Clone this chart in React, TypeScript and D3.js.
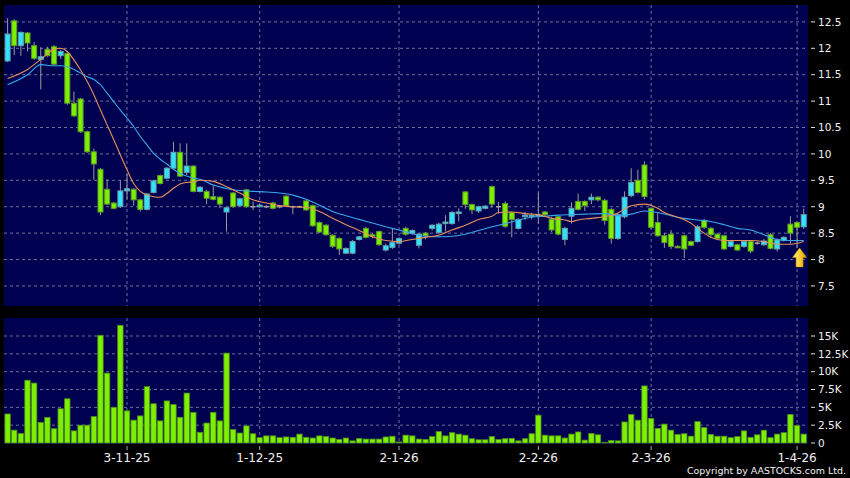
import React from 'react';
import * as d3 from 'd3';

// ---- data ----
const opens = [
  11.76, 12.52, 12.05, 12.29, 12.05, 11.79, 11.98, 12.03, 11.86, 11.9,
  10.96, 11.04, 10.42, 10.04, 9.71, 9.33, 9.07, 9.0, 9.3, 9.33,
  9.13, 8.95, 9.27, 9.59, 9.54, 9.73, 10.03, 9.65, 9.77, 9.29,
  9.29, 9.19, 9.18, 8.9, 9.26, 9.02, 9.32, 9.0, 9.0, 9.0,
  9.07, 9.0, 9.2, 9.0, 9.0, 9.11, 9.02, 8.7, 8.65, 8.46,
  8.4, 8.12, 8.12, 8.38, 8.59, 8.47, 8.53, 8.18, 8.23, 8.31,
  8.59, 8.5, 8.27, 8.5, 8.59, 8.51, 8.68, 8.68, 8.89, 9.28,
  9.04, 8.92, 8.97, 9.38, 9.0, 9.06, 8.89, 8.59, 8.82, 8.83,
  8.84, 8.9, 8.76, 8.81, 8.38, 8.82, 9.1, 9.1, 9.13, 9.18,
  9.12, 8.95, 8.4, 8.81, 9.21, 9.5, 9.79, 8.97, 8.7, 8.45,
  8.48, 8.25, 8.45, 8.34, 8.34, 8.74, 8.59, 8.48, 8.45, 8.25,
  8.28, 8.25, 8.34, 8.31, 8.28, 8.47, 8.2, 8.36, 8.67, 8.7,
  8.62,
];
const highs = [
  12.57, 12.55, 12.32, 12.31, 12.12, 12.02, 12.03, 12.06, 11.97, 11.95,
  11.18, 11.06, 10.44, 10.1, 9.73, 9.52, 9.09, 9.5, 9.62, 9.35,
  9.15, 9.26, 9.51, 9.61, 9.75, 10.23, 10.2, 10.2, 9.79, 9.39,
  9.32, 9.41, 9.2, 9.0, 9.28, 9.17, 9.34, 9.1, 9.05, 9.03,
  9.09, 9.03, 9.22, 9.02, 9.02, 9.14, 9.04, 8.72, 8.67, 8.48,
  8.42, 8.23, 8.37, 8.45, 8.62, 8.5, 8.55, 8.3, 8.59, 8.42,
  8.62, 8.57, 8.5, 8.52, 8.67, 8.7, 8.84, 8.92, 8.97, 9.3,
  9.06, 9.02, 9.03, 9.4, 9.09, 9.1, 8.91, 8.78, 8.9, 8.88,
  9.27, 8.92, 8.8, 8.83, 8.62, 9.08, 9.25, 9.12, 9.25, 9.2,
  9.15, 8.97, 8.87, 9.29, 9.73, 9.7, 9.86, 8.99, 8.88, 8.5,
  8.56, 8.27, 8.47, 8.36, 8.65, 8.77, 8.62, 8.5, 8.47, 8.37,
  8.3, 8.37, 8.36, 8.34, 8.39, 8.5, 8.4, 8.44, 8.82, 8.72,
  8.96,
];
const lows = [
  11.74, 11.87, 11.86, 11.94, 11.78, 11.22, 11.84, 11.68, 11.8, 10.93,
  10.7, 10.4, 10.02, 9.51, 8.84, 9.03, 8.95, 8.98, 9.14, 9.02,
  8.91, 8.93, 9.25, 9.42, 9.52, 9.71, 9.56, 9.6, 9.27, 9.27,
  9.05, 9.12, 8.97, 8.53, 8.98, 9.0, 8.98, 8.94, 8.98, 8.97,
  8.95, 8.97, 9.0, 8.86, 8.98, 8.92, 8.62, 8.5, 8.45, 8.22,
  8.09, 8.1, 8.1, 8.36, 8.4, 8.4, 8.26, 8.15, 8.2, 8.28,
  8.45, 8.47, 8.21, 8.38, 8.55, 8.48, 8.53, 8.66, 8.72, 8.96,
  8.86, 8.88, 8.95, 8.98, 8.87, 8.6, 8.42, 8.57, 8.75, 8.76,
  8.68, 8.82, 8.52, 8.46, 8.27, 8.68, 8.93, 8.92, 9.05, 9.1,
  8.66, 8.3, 8.37, 8.78, 9.18, 9.25, 9.14, 8.58, 8.43, 8.22,
  8.2, 8.22, 8.03, 8.25, 8.32, 8.58, 8.43, 8.38, 8.18, 8.23,
  8.16, 8.22, 8.12, 8.28, 8.26, 8.19, 8.15, 8.34, 8.3, 8.22,
  8.58,
];
const closes = [
  12.27, 12.05, 12.3, 12.1, 11.81, 11.84, 11.86, 11.7, 11.94, 10.96,
  10.72, 10.42, 10.04, 9.81, 8.9, 9.05, 8.97, 9.3, 9.34, 9.13,
  8.95, 9.24, 9.49, 9.44, 9.73, 10.03, 9.58, 9.77, 9.29, 9.37,
  9.16, 9.14, 9.05, 8.98, 9.0, 9.15, 9.0, 9.0, 9.03, 9.0,
  8.97, 9.0, 9.02, 9.0, 9.0, 8.94, 8.64, 8.52, 8.47, 8.25,
  8.2, 8.21, 8.34, 8.43, 8.42, 8.45, 8.28, 8.26, 8.32, 8.4,
  8.48, 8.55, 8.48, 8.45, 8.65, 8.67, 8.71, 8.89, 8.9, 9.04,
  8.94, 9.0, 9.01, 9.05, 9.0, 8.63, 8.76, 8.76, 8.84, 8.84,
  8.85, 8.85, 8.56, 8.48, 8.59, 8.97, 8.95, 9.02, 9.18, 9.13,
  8.74, 8.4, 8.85, 9.18, 9.46, 9.27, 9.19, 8.61, 8.45, 8.32,
  8.25, 8.24, 8.2, 8.27, 8.62, 8.61, 8.47, 8.4, 8.2, 8.34,
  8.18, 8.34, 8.16, 8.31, 8.35, 8.21, 8.37, 8.42, 8.5, 8.61,
  8.85,
];
// volume in thousands of shares
const volumes = [
  4.07, 1.8, 1.35, 8.8, 8.4, 2.9, 3.6, 2.0, 4.8, 6.2,
  1.7, 2.5, 2.5, 3.7, 15.1, 9.8, 5.0, 16.5, 4.5, 3.2,
  3.8, 7.9, 5.5, 3.1, 5.9, 5.4, 3.6, 7.0, 4.3, 1.5,
  2.8, 4.3, 3.1, 12.6, 1.9, 1.4, 2.4, 1.3, 0.75, 1.0,
  1.0, 0.75, 0.85, 0.8, 1.25, 0.8, 0.7, 1.0, 0.9, 0.7,
  0.5, 0.7, 0.3, 0.65, 0.55, 0.55, 0.55, 0.85, 0.95, 0.15,
  1.1, 1.0, 0.55, 0.5, 0.9, 1.6, 1.0, 1.45, 1.25, 1.1,
  0.6, 0.45, 0.45, 0.9, 0.5, 0.6, 0.65, 0.3, 0.6, 1.3,
  3.9, 1.1, 1.0, 1.0, 0.7, 1.25, 1.55, 0.4, 1.35, 1.15,
  0.1, 0.35, 0.3, 2.95, 4.0, 3.2, 8.0, 3.45, 2.05, 2.65,
  1.8, 1.2, 1.3, 0.95, 3.0, 2.15, 1.2, 0.95, 0.95, 0.75,
  0.9, 1.7, 0.8, 1.15, 1.8, 0.75, 1.25, 1.45, 4.0, 2.45,
  1.25,
];
// moving averages: [candle index, value]
const maShort: [number, number][] = [
  [0, 11.43], [3, 11.6], [5, 11.79], [7, 11.98], [8, 12.0], [9, 11.94], [10, 11.78],
  [11, 11.59], [12, 11.37], [13, 11.12], [14, 10.83], [15, 10.55], [16, 10.27],
  [17, 9.98], [18, 9.7], [19, 9.44], [20, 9.29], [21, 9.22], [22, 9.19], [23, 9.18],
  [24, 9.25], [25, 9.35], [26, 9.43], [27, 9.46], [28, 9.47], [29, 9.5], [31, 9.48],
  [33, 9.38], [35, 9.26], [37, 9.13], [39, 9.07], [41, 9.02], [43, 9.0], [45, 8.99],
  [47, 8.91], [49, 8.78], [51, 8.66], [53, 8.55], [55, 8.43], [57, 8.36], [59, 8.34],
  [61, 8.38], [63, 8.42], [65, 8.46], [67, 8.56], [69, 8.65], [71, 8.76], [73, 8.82],
  [74, 8.89], [76, 8.9], [78, 8.87], [80, 8.85], [82, 8.78], [84, 8.75], [85, 8.72],
  [86, 8.75], [88, 8.78], [90, 8.81], [92, 8.88], [94, 9.02], [96, 9.05], [98, 8.97],
  [99, 8.89], [101, 8.8], [103, 8.69], [104, 8.59], [105, 8.5], [106, 8.42], [108, 8.36],
  [110, 8.36], [112, 8.36], [114, 8.34], [116, 8.29], [118, 8.29], [120, 8.34],
];
const maLong: [number, number][] = [
  [0, 11.31], [3, 11.5], [5, 11.69], [7, 11.67], [8, 11.67], [9, 11.65], [10, 11.6],
  [11, 11.53], [12, 11.46], [13, 11.41], [14, 11.31], [15, 11.15], [16, 10.99],
  [17, 10.83], [18, 10.68], [19, 10.52], [20, 10.33], [21, 10.17], [22, 10.01],
  [23, 9.9], [24, 9.81], [25, 9.71], [26, 9.63], [27, 9.58], [28, 9.54], [29, 9.52],
  [31, 9.41], [34, 9.32], [37, 9.29], [39, 9.28], [41, 9.26], [43, 9.22], [45, 9.14],
  [47, 9.03], [49, 8.91], [51, 8.83], [53, 8.76], [55, 8.69], [57, 8.62], [59, 8.56],
  [61, 8.49], [63, 8.44], [65, 8.43], [67, 8.44], [69, 8.48], [71, 8.55], [73, 8.62],
  [75, 8.68], [77, 8.75], [79, 8.8], [81, 8.82], [83, 8.84], [85, 8.85], [87, 8.86],
  [90, 8.87], [92, 8.83], [94, 8.86], [96, 8.92], [98, 8.89], [100, 8.83], [102, 8.78],
  [104, 8.75], [106, 8.72], [108, 8.66], [110, 8.59], [112, 8.56], [114, 8.47],
  [116, 8.38], [118, 8.36], [120, 8.36],
];
const dateTickIdx = [18, 38, 59, 80, 97, 119];
const dateTickLabels = ['3-11-25', '1-12-25', '2-1-26', '2-2-26', '2-3-26', '1-4-26'];
const priceTicks = [12.5, 12, 11.5, 11, 10.5, 10, 9.5, 9, 8.5, 8, 7.5];
const volTicks = [15, 12.5, 10, 7.5, 5, 2.5, 0];
const arrowIdx = 119;
const arrowPrices = [8.22, 7.86];

const FONT = 'DejaVu Sans, Verdana, sans-serif';

export default function App() {
  const W = 850;
  const H = 478;
  const plotL = 4;
  const plotR = 808;
  const priceTop = 5;
  const priceBot = 306;
  const volTop = 318;
  const volBot = 444;

  const n = closes.length;
  const x = d3.scaleLinear().domain([0, n - 1]).range([7.6, 803.7]);
  const y = d3.scaleLinear().domain([7.12, 12.82]).range([priceBot, priceTop]);
  const yv = d3.scaleLinear().domain([0, 15]).range([443, 336]);

  const bodyW = 5;
  const volW = 5.4;
  const gridColor = '#6e6e9c';
  const bg = '#000050';

  const line = d3
    .line<[number, number]>()
    .x((d) => x(d[0]))
    .y((d) => y(d[1]))
    .curve(d3.curveMonotoneX);

  const ax = x(arrowIdx) + 2.5;
  const aTip = y(arrowPrices[0]);
  const aBase = y(arrowPrices[1]);
  const aMid = aTip + (aBase - aTip) * 0.5;
  const arrowPath = `M${ax},${aTip} L${ax + 7},${aMid} L${ax + 3.5},${aMid} L${ax + 3.5},${aBase} L${ax - 3.5},${aBase} L${ax - 3.5},${aMid} L${ax - 7},${aMid} Z`;

  return (
    <div style={{ position: 'absolute', left: 0, top: 0, width: W, height: H, background: '#000' }}>
      <svg width={W} height={H} style={{ display: 'block' }}>
        <defs>
          <clipPath id="pclip">
            <rect x={plotL} y={priceTop} width={plotR - plotL} height={priceBot - priceTop} />
          </clipPath>
          <linearGradient id="agrad" x1="0" x2="1" y1="0" y2="0">
            <stop offset="0" stopColor="#fff3a0" />
            <stop offset="0.45" stopColor="#ffd23a" />
            <stop offset="1" stopColor="#d99a00" />
          </linearGradient>
        </defs>
        <rect x={0} y={0} width={W} height={H} fill="#000" />
        {/* panels */}
        <rect x={plotL} y={priceTop} width={plotR - plotL} height={priceBot - priceTop} fill={bg} />
        <rect x={plotL} y={volTop} width={plotR - plotL} height={volBot - volTop} fill={bg} />

        {/* price grid */}
        {priceTicks.map((p) => (
          <line key={'pg' + p} x1={plotL} x2={plotR} y1={y(p)} y2={y(p)} stroke={gridColor} strokeDasharray="3,3" strokeWidth={1} />
        ))}
        {volTicks.filter((v) => v > 0).map((v) => (
          <line key={'vg' + v} x1={plotL} x2={plotR} y1={yv(v)} y2={yv(v)} stroke={gridColor} strokeDasharray="3,3" strokeWidth={1} />
        ))}
        {dateTickIdx.map((i) => (
          <g key={'dg' + i}>
            <line x1={x(i)} x2={x(i)} y1={priceTop} y2={priceBot} stroke={gridColor} strokeDasharray="3,3" />
            <line x1={x(i)} x2={x(i)} y1={volTop} y2={volBot} stroke={gridColor} strokeDasharray="3,3" />
            <line x1={x(i)} x2={x(i)} y1={volBot + 2} y2={volBot + 6} stroke="#aaa" />
          </g>
        ))}

        {/* candles */}
        <g clipPath="url(#pclip)">
          {closes.map((c, i) => {
            const o = opens[i];
            const cx = x(i);
            const up = c > o + 0.004;
            const down = c < o - 0.004;
            const top = y(Math.max(o, c));
            const bot = y(Math.min(o, c));
            return (
              <g key={'c' + i}>
                <line x1={cx} x2={cx} y1={y(highs[i])} y2={y(lows[i])} stroke="#9a9a9a" strokeWidth={1} />
                {up || down ? (
                  <rect
                    x={cx - bodyW / 2}
                    y={top}
                    width={bodyW}
                    height={Math.max(1.5, bot - top)}
                    fill={up ? '#2fe3fb' : '#7cf000'}
                    stroke={up ? '#6a9fab' : '#5e9a28'}
                    strokeWidth={1}
                  />
                ) : (
                  <line x1={cx - bodyW / 2} x2={cx + bodyW / 2} y1={top} y2={top} stroke="#a8a8a8" strokeWidth={1.5} />
                )}
              </g>
            );
          })}
          <path d={line(maLong) || ''} fill="none" stroke="#3aa8ec" strokeWidth={1.1} />
          <path d={line(maShort) || ''} fill="none" stroke="#e8905c" strokeWidth={1.1} />
          <path d={arrowPath} fill="url(#agrad)" stroke="#c58a00" strokeWidth={0.6} />
        </g>

        {/* volume */}
        {volumes.map((v, i) => (
          <rect
            key={'v' + i}
            x={x(i) - volW / 2}
            y={yv(v)}
            width={volW}
            height={Math.max(0.5, yv(0) - yv(v))}
            fill="#7cf000"
            stroke="#4f8a1c"
            strokeWidth={0.8}
          />
        ))}

        {/* right axes */}
        {priceTicks.map((p) => (
          <g key={'pl' + p}>
            <line x1={811} x2={815} y1={y(p)} y2={y(p)} stroke="#ddd" />
            <text x={818} y={y(p)} dy="0.36em" fill="#f2f2f2" fontSize={10.5} fontFamily={FONT}>
              {String(p)}
            </text>
          </g>
        ))}
        {volTicks.map((v) => (
          <g key={'vl' + v}>
            <line x1={811} x2={815} y1={yv(v)} y2={yv(v)} stroke="#ddd" />
            <text x={818} y={yv(v)} dy="0.36em" fill="#f2f2f2" fontSize={10.5} fontFamily={FONT}>
              {v === 0 ? '0' : `${v}K`}
            </text>
          </g>
        ))}

        {/* date labels */}
        {dateTickIdx.map((i, k) => (
          <text key={'dl' + i} x={x(i)} y={462} textAnchor="middle" fill="#f2f2f2" fontSize={12} fontFamily={FONT}>
            {dateTickLabels[k]}
          </text>
        ))}

        <text x={846} y={474} textAnchor="end" fill="#f2f2f2" fontSize={9.5} fontFamily={FONT} textLength={159} lengthAdjust="spacingAndGlyphs">
          Copyright by AASTOCKS.com Ltd.
        </text>
      </svg>
    </div>
  );
}
